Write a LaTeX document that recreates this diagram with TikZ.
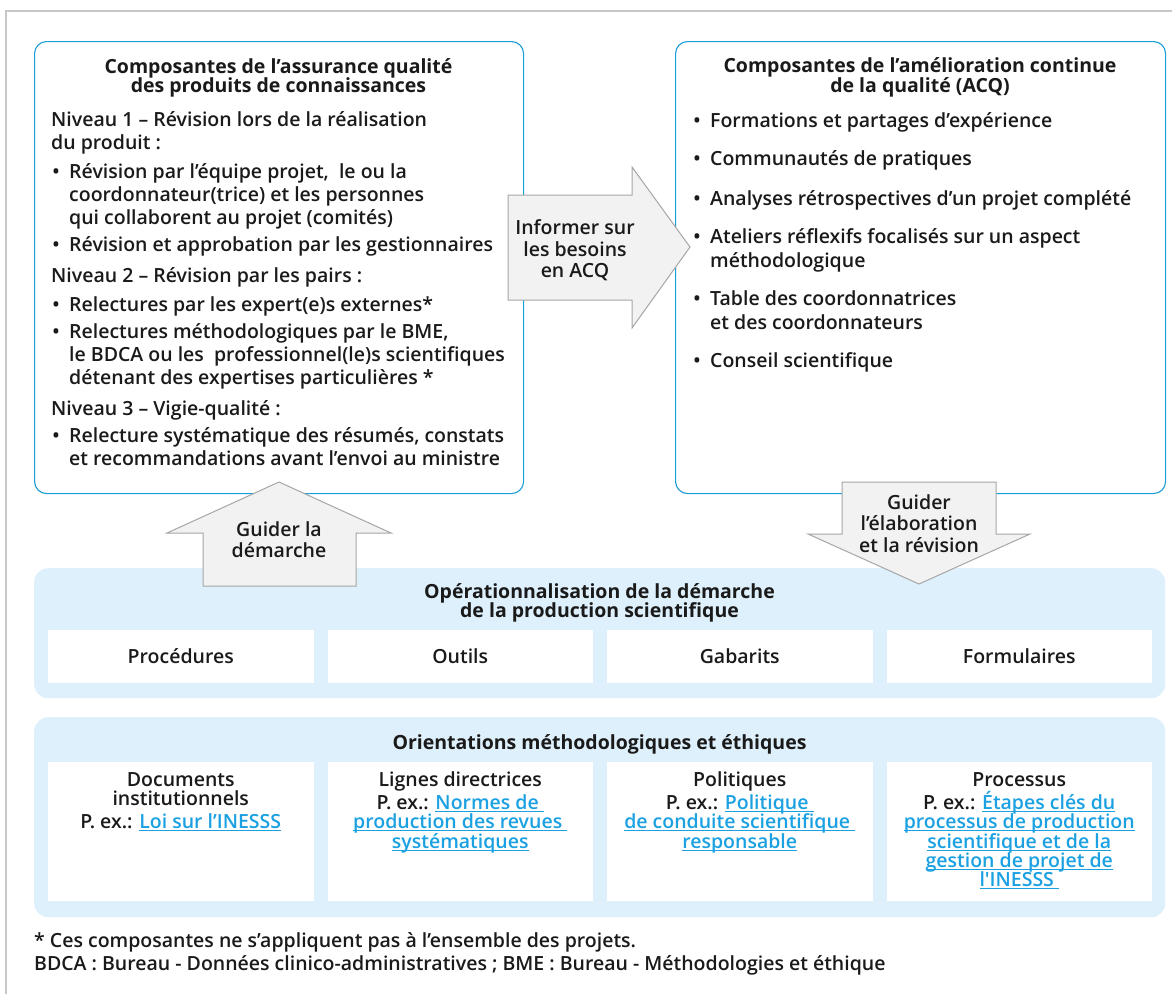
\documentclass[tikz,border=0pt]{standalone}
\usepackage{fontspec}
\setmainfont{Open Sans}
\IfFontExistsTF{Open Sans SemiBold}{\newfontfamily\bodyf{Open Sans SemiBold}}{%
 \IfFontExistsTF{Open Sans Semibold}{\newfontfamily\bodyf{Open Sans Semibold}}{%
  \IfFontExistsTF{Noto Sans SemiBold}{\newfontfamily\bodyf{Noto Sans SemiBold}}{%
   \IfFontExistsTF{Noto Sans Medium}{\newfontfamily\bodyf{Noto Sans Medium}}{%
    \newfontfamily\bodyf{Open Sans}[FakeBold=2]}}}}
\definecolor{bluebd}{HTML}{1B9DD9}
\definecolor{panelc}{HTML}{DEF0FB}
\definecolor{arrf}{HTML}{F2F2F2}
\definecolor{arrd}{HTML}{A6A6A6}
\definecolor{framec}{HTML}{C8C8C8}
\definecolor{txtc}{HTML}{1A1A1A}
\definecolor{linkc}{HTML}{1BA1E2}
\newcommand\lnk[1]{{\color{linkc}\setbox0\hbox{#1}\rlap{\rule[-3pt]{\wd0}{1pt}}\box0}}
\tikzset{
 tx/.style={anchor=base west, inner sep=0pt, text=txtc, font=\bodyf\fontsize{19.5}{22}\selectfont},
 txc/.style={tx, anchor=base},
 ttl/.style={anchor=base, inner sep=0pt, text=txtc, font=\bfseries\fontsize{19.5}{22}\selectfont},
 qbox/.style={draw=bluebd, line width=1.1pt, rounded corners=12pt, fill=white, anchor=north west, inner sep=0pt},
 panel/.style={fill=panelc, rounded corners=14pt, anchor=north west, inner sep=0pt, minimum width=1131pt},
 cell/.style={fill=white, anchor=north west, inner sep=0pt, minimum width=265.5pt},
 barrow/.style={fill=arrf, draw=arrd, line width=1pt, line join=miter},
}
\begin{document}
\begin{tikzpicture}[x=1pt,y=-1pt]
\useasboundingbox (0,0) rectangle (1172,994);
\fill[white] (0,0) rectangle (1172,994);
\draw[framec, line width=1.2pt] (6,994) -- (6,11) -- (1172,11);

% main boxes
\node[qbox, minimum width=489pt, minimum height=452pt] (aq) at (34,41) {};
\node[qbox, minimum width=490pt, minimum height=452pt] (acq) at (675,41) {};

% panels
\node[panel, minimum height=130pt] (ops) at (34,568) {};
\node[panel, minimum height=200pt] (ori) at (34,717) {};
\foreach \x/\n in {48/1,327.5/2,607/3,886.5/4}{
  \node[cell, minimum height=53pt] (oc\n) at (\x,630) {};
  \node[cell, minimum height=139pt] (rc\n) at (\x,762) {};
}

% left box text
\node[ttl] (aqt1) at (278.5,73) {Composantes de l’assurance qualité};
\node[ttl] (aqt2) at (278.5,92) {des produits de connaissances};
\node[tx] (n1a) at (51,126) {Niveau 1 – Révision lors de la réalisation};
\node[tx] (n1b) at (51,149) {du produit :};
\node[txc] (b1) at (56,178) {•};
\node[tx] (b1a) at (69,178) {Révision par l’équipe projet,\ \ le ou la};
\node[tx] (b1b) at (69,201) {coordonnateur(trice) et les personnes};
\node[tx] (b1c) at (69,224) {qui collaborent au projet (comités)};
\node[txc] (b2) at (56,251) {•};
\node[tx] (b2a) at (69,251) {Révision et approbation par les gestionnaires};
\node[tx] (n2a) at (51,282) {Niveau 2 – Révision par les pairs :};
\node[txc] (b3) at (56,311) {•};
\node[tx] (b3a) at (69,311) {Relectures par les expert(e)s externes*};
\node[txc] (b4) at (56,338) {•};
\node[tx] (b4a) at (69,338) {Relectures méthodologiques par le BME,};
\node[tx] (b4b) at (69,361) {le BDCA ou les\ \ professionnel(le)s scientifiques};
\node[tx] (b4c) at (69,384) {détenant des expertises particulières *};
\node[tx] (n3a) at (51,415) {Niveau 3 – Vigie-qualité :};
\node[txc] (b5) at (56,442) {•};
\node[tx] (b5a) at (69,442) {Relecture systématique des résumés, constats};
\node[tx] (b5b) at (69,465) {et recommandations avant l’envoi au ministre};

% right box text
\node[ttl] (acqt1) at (920,72) {Composantes de l’amélioration continue};
\node[ttl] (acqt2) at (920,92) {de la qualité (ACQ)};
\node[txc] (r1) at (697,127) {•};
\node[tx] (r1a) at (710,127) {Formations et partages d’expérience};
\node[txc] (r2) at (697,165) {•};
\node[tx] (r2a) at (710,165) {Communautés de pratiques};
\node[txc] (r3) at (697,205) {•};
\node[tx] (r3a) at (710,205) {Analyses rétrospectives d’un projet complété};
\node[txc] (r4) at (697,243) {•};
\node[tx] (r4a) at (710,243) {Ateliers réflexifs focalisés sur un aspect};
\node[tx] (r4b) at (710,267) {méthodologique};
\node[txc] (r5) at (697,305) {•};
\node[tx] (r5a) at (710,305) {Table des coordonnatrices};
\node[tx] (r5b) at (710,329) {et des coordonnateurs};
\node[txc] (r6) at (697,367) {•};
\node[tx] (r6a) at (710,367) {Conseil scientifique};

% block arrows
\draw[barrow] (508,195) -- (632,195) -- (632,167) -- (690,247) -- (632,328) -- (632,300) -- (508,300) -- cycle;
\node[txc] (inf1) at (575,234) {Informer sur};
\node[txc] (inf2) at (575,256) {les besoins};
\node[txc] (inf3) at (575,277) {en ACQ};

\draw[barrow] (203,586) -- (203,533) -- (167,533) -- (279,482) -- (391,533) -- (356,533) -- (356,586) -- cycle;
\node[txc] (gd1) at (279,536) {Guider la};
\node[txc] (gd2) at (279,557) {démarche};

\draw[barrow] (842,482) -- (996,482) -- (996,534) -- (1030,534) -- (919,584) -- (808,534) -- (842,534) -- cycle;
\node[txc] (ge1) at (919,509) {Guider};
\node[txc] (ge2) at (919,530) {l’élaboration};
\node[txc] (ge3) at (919,552) {et la révision};

% panel 1 text
\node[ttl] (opt1) at (599.5,598) {Opérationnalisation de la démarche};
\node[ttl] (opt2) at (599.5,617) {de la production scientifique};
\node[txc] (p1) at (180.75,663) {Procédures};
\node[txc] (p2) at (460.25,663) {Outils};
\node[txc] (p3) at (739.75,663) {Gabarits};
\node[txc] (p4) at (1019.25,663) {Formulaires};

% panel 2 text
\node[ttl] (ort) at (599.5,749) {Orientations méthodologiques et éthiques};
\node[txc] (d1) at (180.75,786) {Documents};
\node[txc] (d2) at (180.75,805) {institutionnels};
\node[txc] (d3) at (180.75,828) {P. ex.: \lnk{Loi sur l’INESSS}};
\node[txc] (l1) at (460.25,786) {Lignes directrices};
\node[txc] (l2) at (460.25,809) {P. ex.: \lnk{Normes de\ }};
\node[txc] (l3) at (460.25,828) {\lnk{production des revues\ }};
\node[txc] (l4) at (460.25,848) {\lnk{systématiques}};
\node[txc] (q1) at (739.75,786) {Politiques};
\node[txc] (q2) at (739.75,809) {P. ex.: \lnk{Politique\ }};
\node[txc] (q3) at (739.75,828) {\lnk{de conduite scientifique\ }};
\node[txc] (q4) at (739.75,848) {\lnk{responsable}};
\node[txc] (s1) at (1019.25,786) {Processus};
\node[txc] (s2) at (1019.25,809) {P. ex.: \lnk{Étapes clés du}};
\node[txc] (s3) at (1019.25,828) {\lnk{processus de production}};
\node[txc] (s4) at (1019.25,848) {\lnk{scientifique et de la}};
\node[txc] (s5) at (1019.25,867) {\lnk{gestion de projet de}};
\node[txc] (s6) at (1019.25,886) {\lnk{l'INESSS\ }};

% footnotes
\node[tx] (f1) at (34,947) {* Ces composantes ne s’appliquent pas à l’ensemble des projets.};
\node[tx] (f2) at (34,970) {BDCA : Bureau - Données clinico-administratives ; BME : Bureau - Méthodologies et éthique};
\end{tikzpicture}
\end{document}
